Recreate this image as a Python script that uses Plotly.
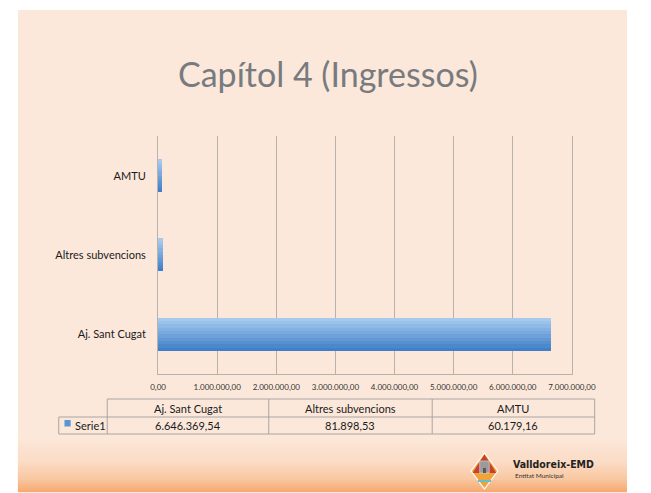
import plotly.graph_objects as go

# ---------------- data ----------------
categories = ["Aj. Sant Cugat", "Altres subvencions", "AMTU"]
serie1 = [6646369.54, 81898.53, 60179.16]
series_name = "Serie1"
x_tickvals = [0, 1000000, 2000000, 3000000, 4000000, 5000000, 6000000, 7000000]
x_ticktext = ["0,00", "1.000.000,00", "2.000.000,00", "3.000.000,00",
              "4.000.000,00", "5.000.000,00", "6.000.000,00", "7.000.000,00"]
title_text = "Capítol 4 (Ingressos)"

# the page body keeps its default 8px margin: the figure sits at (8, 8)
OX, OY = 8, 8
W, H = 651 - OX, 493 - OY
FONT = "Lato"


def px(x):
    return (x - OX) / W


def py(y):
    return 1 - (y - OY) / H


def fmt(v):
    s = f"{v:,.2f}"
    return s.replace(",", "#").replace(".", ",").replace("#", ".")


def mix(c1, c2, t):
    a = [int(c1[i:i + 2], 16) for i in (1, 3, 5)]
    b = [int(c2[i:i + 2], 16) for i in (1, 3, 5)]
    return "rgb(%d,%d,%d)" % tuple(round(a[k] + (b[k] - a[k]) * t) for k in range(3))


fig = go.Figure()

# bars with vertical gradient (bands)
N = 10
bw = 0.415
dark, light = "#4080C8", "#A6CAEE"
for i in range(N):
    fig.add_trace(go.Bar(
        x=serie1, y=categories, orientation="h",
        width=bw / N + 0.002, offset=-bw / 2 + i * bw / N,
        marker=dict(color=mix(dark, light, i / (N - 1)), line=dict(width=0)),
        name=series_name, showlegend=False, hoverinfo="x+y",
    ))

grid = "#B8B2AE"
fig.update_layout(
    width=W, height=H,
    margin=dict(l=0, r=0, t=0, b=0),
    paper_bgcolor="white", plot_bgcolor="rgba(0,0,0,0)",
    barmode="overlay", bargap=0,
    showlegend=False,
    font=dict(family=FONT, color="#222222"),
    xaxis=dict(
        domain=[px(157.5), px(593)], range=[0, 7000000],
        tickvals=x_tickvals, ticktext=x_ticktext,
        tickfont=dict(size=8, color="#333333"),
        showgrid=True, gridcolor=grid, gridwidth=1,
        showline=True, linecolor=grid, linewidth=1,
        zeroline=False, ticks="outside", ticklen=5, tickcolor="rgba(0,0,0,0)",
        fixedrange=True,
    ),
    yaxis=dict(
        domain=[py(374), py(136)],
        type="category", categoryorder="array", categoryarray=categories,
        range=[-0.5, 2.5],
        tickfont=dict(size=11, color="#1A1A1A"),
        showgrid=False, showline=True, mirror=True, linecolor=grid, linewidth=1,
        ticks="outside", ticklen=9, tickcolor="rgba(0,0,0,0)",
        fixedrange=True,
    ),
)

shapes = []
# slide background
shapes.append(dict(type="rect", xref="paper", yref="paper",
                   x0=px(10), x1=1.0, y0=py(492), y1=py(10),
                   fillcolor="#FCE8DA", line=dict(width=0), layer="below"))
# bottom gradient
top_y, bot_y = 436, 492
steps = 28
cols = [("#FCE8DA", 0.0), ("#FBDCC6", 0.45), ("#F9C9A4", 0.75), ("#F6A970", 1.0)]


def grad(t):
    for k in range(len(cols) - 1):
        c1, t1 = cols[k]
        c2, t2 = cols[k + 1]
        if t <= t2:
            return mix(c1, c2, (t - t1) / (t2 - t1))
    return cols[-1][0]


for s in range(steps):
    y0 = top_y + (bot_y - top_y) * s / steps
    y1 = top_y + (bot_y - top_y) * (s + 1) / steps
    shapes.append(dict(type="rect", xref="paper", yref="paper",
                       x0=px(10), x1=1.0, y0=py(y1 + 0.3), y1=py(y0),
                       fillcolor=grad((s + 0.5) / steps), line=dict(width=0), layer="below"))

# data table
tc = "#A8A4A2"
col_x = [104, 274, 446, 617]
row_y = [399, 417, 434]
leg_x0 = 53


def hline(x0, x1, y):
    shapes.append(dict(type="line", xref="paper", yref="paper",
                       x0=px(x0), x1=px(x1), y0=py(y), y1=py(y),
                       line=dict(color=tc, width=1)))


def vline(x, y0, y1):
    shapes.append(dict(type="line", xref="paper", yref="paper",
                       x0=px(x), x1=px(x), y0=py(y0), y1=py(y1),
                       line=dict(color=tc, width=1)))


hline(col_x[0], col_x[-1], row_y[0])
hline(leg_x0, col_x[-1], row_y[1])
hline(leg_x0, col_x[-1], row_y[2])
vline(leg_x0, row_y[1], row_y[2])
for cx in col_x:
    vline(cx, row_y[0], row_y[2])

# legend key
shapes.append(dict(type="rect", xref="paper", yref="paper",
                   x0=px(59), x1=px(65.5), y0=py(426.5), y1=py(420),
                   fillcolor="#5B95D6", line=dict(width=0)))

# logo diamond
cxl, cyl = 501, 471
shapes.append(dict(type="path", xref="paper", yref="paper",
                   path="M %f %f L %f %f L %f %f L %f %f Z" % (
                       px(cxl), py(453), px(515), py(cyl), px(cxl), py(489), px(487), py(cyl)),
                   fillcolor="#F2A23A", line=dict(color="white", width=1.2)))
shapes.append(dict(type="path", xref="paper", yref="paper",
                   path="M %f %f L %f %f L %f %f L %f %f Z" % (
                       px(cxl), py(454.5), px(513.5), py(cyl + 2), px(488.5), py(cyl + 2), px(cxl), py(454.5)),
                   fillcolor="#C9402E", line=dict(width=0)))
shapes.append(dict(type="line", xref="paper", yref="paper",
                   x0=px(494), x1=px(508), y0=py(481), y1=py(481),
                   line=dict(color="#5EC3D0", width=2)))
shapes.append(dict(type="rect", xref="paper", yref="paper",
                   x0=px(496), x1=px(506), y0=py(473), y1=py(461),
                   fillcolor="#9A9A9A", line=dict(color="#DDDDDD", width=0.6)))
shapes.append(dict(type="rect", xref="paper", yref="paper",
                   x0=px(499.5), x1=px(502.5), y0=py(473), y1=py(468),
                   fillcolor="#555555", line=dict(width=0)))

annotations = []
annotations.append(dict(text=title_text, x=px(336), y=py(74), xref="paper", yref="paper",
                        showarrow=False, xanchor="center", yanchor="middle",
                        font=dict(family=FONT, size=34, color="#777B80")))
for k, cat in enumerate(categories):
    xc = (col_x[k] + col_x[k + 1]) / 2
    annotations.append(dict(text=cat, x=px(xc), y=py(408), xref="paper", yref="paper",
                            showarrow=False, xanchor="center", yanchor="middle",
                            font=dict(family=FONT, size=11, color="#1A1A1A")))
    annotations.append(dict(text=fmt(serie1[k]), x=px(xc), y=py(425.8), xref="paper", yref="paper",
                            showarrow=False, xanchor="center", yanchor="middle",
                            font=dict(family=FONT, size=11, color="#1A1A1A")))
annotations.append(dict(text=series_name, x=px(67.5), y=py(425.8), xref="paper", yref="paper",
                        showarrow=False, xanchor="left", yanchor="middle",
                        font=dict(family=FONT, size=11, color="#1A1A1A")))
annotations.append(dict(text="<b>Valldoreix-EMD</b>", x=px(529), y=py(464), xref="paper", yref="paper",
                        showarrow=False, xanchor="left", yanchor="middle",
                        font=dict(family="DejaVu Sans Condensed, DejaVu Sans", size=10.5, color="#222222")))
annotations.append(dict(text="Entitat Municipal", x=px(531), y=py(475.5), xref="paper", yref="paper",
                        showarrow=False, xanchor="left", yanchor="middle",
                        font=dict(family=FONT, size=6.5, color="#333333")))

fig.update_layout(shapes=shapes, annotations=annotations)

fig.write_html("out.html")
